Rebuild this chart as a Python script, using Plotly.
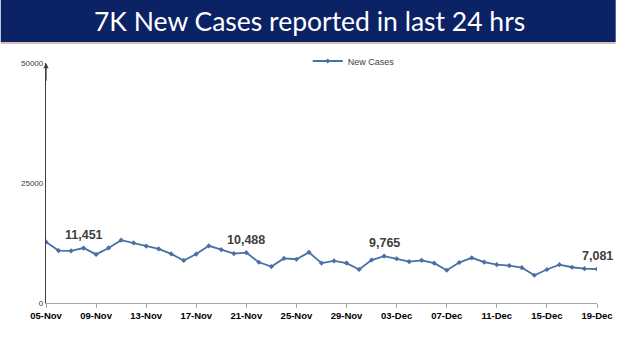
import plotly.graph_objects as go
import pandas as pd

dates = pd.date_range("2021-11-05", "2021-12-19", freq="D")
new_cases = [12729, 10929, 10853, 11451, 10126, 11466, 13091, 12516, 11850, 11271,
             10229, 8865, 10197, 11919, 11106, 10302, 10488, 8488, 7579, 9283,
             9119, 10549, 8318, 8774, 8309, 6990, 8954, 9765, 9216, 8603,
             8895, 8306, 6822, 8439, 9419, 8503, 7992, 7774, 7350, 5784,
             6984, 7974, 7447, 7145, 7081]
labelled_dates = ["2021-11-08", "2021-11-21", "2021-12-02", "2021-12-19"]
tick_dates = pd.date_range("2021-11-05", "2021-12-19", freq="4D")
y_ticks = [0, 25000, 50000]
y_tick_labels = ["0", "25000", "50000"]
title_text = "7K New Cases reported in last 24 hrs"

fig = go.Figure()
fig.add_trace(go.Scatter(
    x=dates, y=new_cases, mode="lines+markers", name="New Cases",
    line=dict(color="#4a6fa5", width=1.8),
    marker=dict(symbol="diamond", size=4, color="#4a6fa5"),
))

series = dict(zip([d.strftime("%Y-%m-%d") for d in dates], new_cases))
for d in labelled_dates:
    v = series[d]
    fig.add_annotation(x=d, y=v, text=f"<b>{v:,}</b>", showarrow=False,
                       yshift=13, font=dict(family="Liberation Sans", size=12.5, color="#404040"))

# y-axis arrow
fig.add_annotation(x=dates[0], y=50000, ax=dates[0], ay=46000, xref="x", yref="y",
                   axref="x", ayref="y", showarrow=True, arrowhead=2, arrowsize=0.8,
                   arrowwidth=1.3, arrowcolor="#404040", text="")

W, H = 625, 351
L, R, T, B = 46, 19, 63, 48
pw, ph = W - L - R, H - T - B
def px_x(p):
    return (p - L) / pw
def px_y(p):
    return (H - B - p) / ph

fig.add_shape(type="rect", xref="paper", yref="paper",
              x0=px_x(0), x1=px_x(W), y0=px_y(42), y1=px_y(0),
              fillcolor="#0b2265", line=dict(width=0), layer="below")
fig.add_shape(type="line", xref="paper", yref="paper",
              x0=px_x(0), x1=px_x(W), y0=px_y(43), y1=px_y(43),
              line=dict(color="#c8aca0", width=1.5))
fig.add_annotation(xref="paper", yref="paper", x=px_x(314), y=px_y(21),
                   text=title_text, showarrow=False, xanchor="center", yanchor="middle",
                   font=dict(family="Lato", size=26.5, color="white"))

fig.update_layout(
    width=W, height=H, margin=dict(l=L, r=R, t=T, b=B),
    paper_bgcolor="white", plot_bgcolor="white",
    showlegend=True,
    legend=dict(orientation="h", x=px_x(312), y=px_y(61), xanchor="left", yanchor="middle",
                font=dict(family="Liberation Sans", size=9, color="#404040"),
                itemwidth=30, bgcolor="rgba(0,0,0,0)"),
    xaxis=dict(type="date", range=[dates[0], dates[-1]], tickvals=tick_dates,
               tickformat="%d-%b", showgrid=False, showline=True, linecolor="#a6a6a6",
               linewidth=1, ticks="outside", ticklen=4, tickcolor="#a6a6a6",
               tickfont=dict(family="Liberation Sans", size=9.5, color="#000000", weight="bold"),
               zeroline=False),
    yaxis=dict(range=[0, 50000], tickvals=y_ticks, ticktext=y_tick_labels, showgrid=False,
               showline=True, linecolor="#404040", linewidth=1.3, ticks="", zeroline=False,
               tickfont=dict(family="Liberation Sans", size=8, color="#404040")),
)

fig.write_html("out.html")
